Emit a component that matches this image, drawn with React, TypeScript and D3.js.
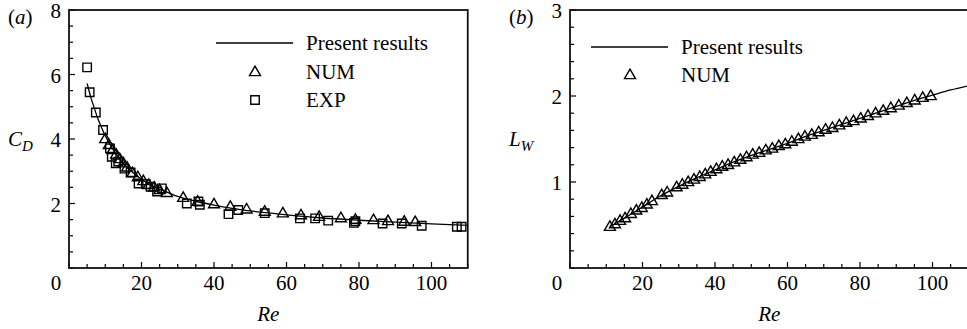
import React from "react";
import * as d3 from "d3";

// panel (a): drag coefficient
const cdLineRe = [5, 6, 7, 8, 9, 10, 12, 14, 16, 18, 20, 23, 26, 30, 35, 40, 45, 50, 60, 70, 80, 90, 100, 110];
const cdLine = [5.72, 5.3, 4.95, 4.62, 4.35, 4.1, 3.7, 3.38, 3.12, 2.92, 2.75, 2.55, 2.4, 2.22, 2.07, 1.95, 1.85, 1.77, 1.65, 1.55, 1.48, 1.42, 1.37, 1.32];

const cdNumRe = [10, 11, 12, 13, 14, 15, 16, 17.5, 19, 20.5, 22, 23.5, 25, 27, 31.5, 35.5, 40, 44.5, 49, 54, 59, 64, 69, 75, 79, 84, 88, 92.5, 95.5];
const cdNum = [4.0, 3.82, 3.66, 3.52, 3.38, 3.25, 3.12, 2.95, 2.82, 2.7, 2.58, 2.5, 2.42, 2.33, 2.18, 2.06, 1.98, 1.9, 1.82, 1.75, 1.7, 1.64, 1.59, 1.55, 1.5, 1.49, 1.46, 1.44, 1.43];

const cdExpRe = [5.0, 5.7, 7.4, 9.4, 11.3, 11.8, 12.9, 13.6, 15.3, 17, 19.2, 21.2, 22.5, 24.3, 25.6, 32.5, 35.7, 36.1, 44, 46.7, 54, 63.7, 67.9, 71.5, 78.6, 79, 86.5, 91.8, 97.3, 107, 108.3];
const cdExp = [6.22, 5.45, 4.82, 4.28, 3.71, 3.45, 3.25, 3.3, 3.08, 2.96, 2.62, 2.6, 2.52, 2.37, 2.47, 2.0, 2.06, 1.96, 1.67, 1.8, 1.7, 1.54, 1.54, 1.47, 1.4, 1.45, 1.38, 1.38, 1.31, 1.28, 1.28];

// panel (b): wake length
const lwLineRe = [11, 15, 20, 25, 30, 35, 40, 45, 50, 55, 60, 65, 70, 75, 80, 85, 90, 95, 100, 105, 110];
const lwLine = [0.48, 0.58, 0.71, 0.84, 0.95, 1.05, 1.14, 1.23, 1.31, 1.38, 1.45, 1.53, 1.6, 1.67, 1.74, 1.81, 1.88, 1.95, 2.01, 2.07, 2.12];

const lwNumRe = [11, 12.4, 13.8, 15.2, 16.8, 18.3, 19.8, 21.2, 22.6, 25.3, 26.8, 29.4, 31, 32.6, 34.2, 35.8, 37.3, 38.8, 40.4, 42, 43.6, 45.3, 47, 48.7, 50.4, 52.2, 54, 55.8, 57.6, 59.4, 61.2, 63, 64.8, 66.7, 68.6, 70.5, 72.4, 74.3, 76.2, 78.2, 80.2, 82.2, 84.3, 86.4, 88.5, 90.7, 92.9, 95.1, 97.3, 99.5];
const lwNum = [0.48, 0.51, 0.55, 0.58, 0.63, 0.67, 0.7, 0.74, 0.78, 0.85, 0.88, 0.94, 0.97, 1.0, 1.03, 1.06, 1.09, 1.12, 1.15, 1.18, 1.2, 1.23, 1.26, 1.29, 1.32, 1.34, 1.37, 1.39, 1.42, 1.44, 1.47, 1.5, 1.53, 1.55, 1.58, 1.61, 1.63, 1.66, 1.69, 1.71, 1.74, 1.77, 1.8, 1.83, 1.86, 1.89, 1.92, 1.95, 1.98, 2.0];

const xTickLabels = [0, 20, 40, 60, 80, 100];
const cdTickLabels = [2, 4, 6, 8];
const lwTickLabels = [1, 2, 3];

const FONT = '"Liberation Serif", "DejaVu Serif", "Times New Roman", serif';
const FS = 21;
const top = 10;
const bottom = 268;

const triangle = d3.symbol().type(d3.symbolTriangle).size(52)();
const square = d3.symbol().type(d3.symbolSquare).size(72)();

const Marker = ({ kind, x, y }) => (
  <path
    d={kind === "tri" ? triangle : square}
    transform={`translate(${x},${y + (kind === "tri" ? 0.5 : 0)})`}
    fill="none"
    stroke="#000"
    strokeWidth={1.4}
  />
);

const Panel = ({ left, yMax, yTicks, minorStep, letter, yName, ySub, lines, markers, legend }) => {
  const x = d3.scaleLinear().domain([0, 110]).range([left, left + 3.625 * 110]);
  const y = d3.scaleLinear().domain([0, yMax]).range([bottom, top]);
  const line = d3
    .line()
    .x(d => x(d[0]))
    .y(d => y(d[1]))
    .curve(d3.curveMonotoneX);
  const xMinor = d3.range(0, 111, 5);
  const yMinor = d3.range(0, yMax + 1e-6, minorStep);
  const [x0, x1] = x.range();
  return (
    <g style={{ fontFamily: FONT, fontSize: FS }} fill="#000">
      <defs>
        <clipPath id={`clip-${letter}`}>
          <rect x={x0} y={top} width={x1 - x0} height={bottom - top} />
        </clipPath>
      </defs>
      {/* ticks */}
      {xMinor.map(v => (
        <line key={"xt" + v} x1={x(v)} x2={x(v)} y1={bottom} y2={bottom - (v % 20 === 0 ? 6 : 4)} stroke="#000" strokeWidth={1.2} />
      ))}
      {yMinor.map(v => (
        <line key={"yt" + v} x1={x0} x2={x0 + (yTicks.some(t => Math.abs(t - v) < 1e-6) ? 6 : 4)} y1={y(v)} y2={y(v)} stroke="#000" strokeWidth={1.2} />
      ))}
      {/* frame */}
      <rect x={x0} y={top} width={x1 - x0} height={bottom - top} fill="none" stroke="#111" strokeWidth={1.8} />
      {/* tick labels */}
      {xTickLabels.map(v => (
        <text key={"xl" + v} x={v === 0 ? x(v) - 13 : x(v)} y={290} textAnchor="middle">{v}</text>
      ))}
      {yTicks.map(v => (
        <text key={"yl" + v} x={x0 - 8} y={y(v) + 8} textAnchor="end">{v}</text>
      ))}
      {/* titles */}
      <text x={x0 + 3.625 * 55} y={321} textAnchor="middle" fontStyle="italic">Re</text>
      <text x={x0 - 61} y={24}>
        (<tspan fontStyle="italic">{letter}</tspan>)
      </text>
      <text x={x0 - 61} y={146} fontStyle="italic">
        {yName}
        <tspan fontSize={15} dy={5}>{ySub}</tspan>
      </text>
      {/* data */}
      <g clipPath={`url(#clip-${letter})`}>
        {lines.map((l, i) => (
          <path key={"l" + i} d={line(l)} fill="none" stroke="#000" strokeWidth={1.3} />
        ))}
        {markers.map((m, i) =>
          m.pts.map((p, j) => <Marker key={`m${i}-${j}`} kind={m.kind} x={x(p[0])} y={y(p[1])} />)
        )}
      </g>
      {/* legend */}
      {legend.map((item, i) => (
        <g key={"lg" + i}>
          {item.kind === "line" ? (
            <line x1={item.x} x2={item.x + 77} y1={item.y} y2={item.y} stroke="#000" strokeWidth={1.3} />
          ) : (
            <Marker kind={item.kind} x={item.x + 39} y={item.y} />
          )}
          <text x={item.x + 90} y={item.y + 7}>{item.label}</text>
        </g>
      ))}
    </g>
  );
};

const zip = (a, b) => a.map((v, i) => [v, b[i]]);

export default function App() {
  return (
    <svg width={967} height={329} style={{ position: "absolute", left: 0, top: 0, background: "#fff" }}>
      <rect width={967} height={329} fill="#fff" />
      <Panel
        left={69}
        yMax={8}
        yTicks={cdTickLabels}
        minorStep={0.5}
        letter="a"
        yName="C"
        ySub="D"
        lines={[zip(cdLineRe, cdLine)]}
        markers={[
          { kind: "tri", pts: zip(cdNumRe, cdNum) },
          { kind: "sq", pts: zip(cdExpRe, cdExp) },
        ]}
        legend={[
          { kind: "line", x: 216, y: 43, label: "Present results" },
          { kind: "tri", x: 216, y: 72, label: "NUM" },
          { kind: "sq", x: 216, y: 100, label: "EXP" },
        ]}
      />
      <Panel
        left={570}
        yMax={3}
        yTicks={lwTickLabels}
        minorStep={0.2}
        letter="b"
        yName="L"
        ySub="W"
        lines={[zip(lwLineRe, lwLine)]}
        markers={[{ kind: "tri", pts: zip(lwNumRe, lwNum) }]}
        legend={[
          { kind: "line", x: 591, y: 47, label: "Present results" },
          { kind: "tri", x: 591, y: 75, label: "NUM" },
        ]}
      />
    </svg>
  );
}
